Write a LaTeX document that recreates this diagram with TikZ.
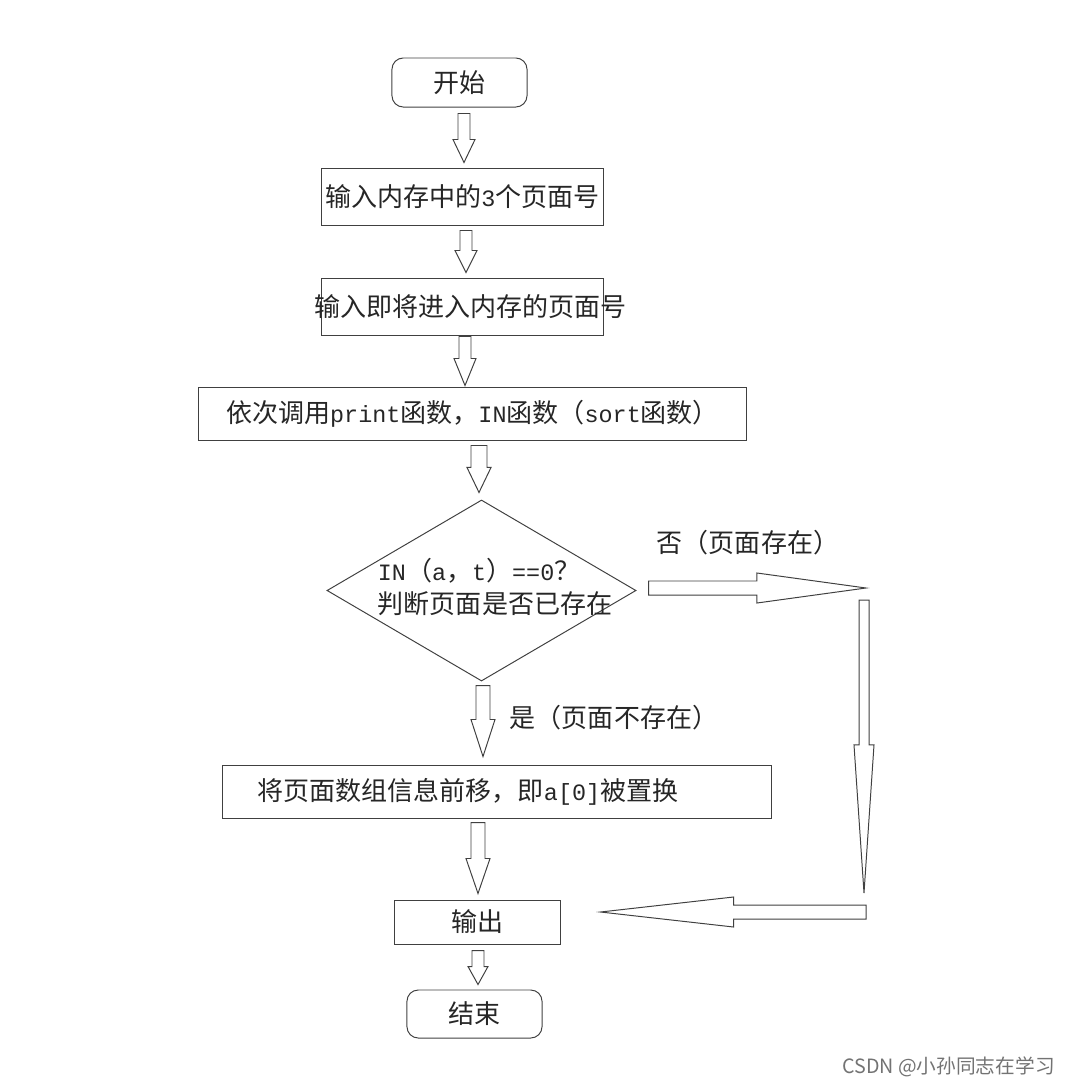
\documentclass[tikz,border=0pt]{standalone}
\usepackage{fontspec}
\setmainfont{Noto Sans CJK SC}
\newfontfamily\latinmono{Liberation Mono}[Scale=0.9]
\usetikzlibrary{positioning, shapes.geometric, calc}

\newcommand{\lm}[1]{{\latinmono #1}}
% hollow block arrow: from, to, shaft half width, head half width, head length
\newcommand{\hollowarrow}[5]{%
  \coordinate (ha-s) at #1;
  \coordinate (ha-t) at #2;
  \coordinate (ha-h) at ($(ha-t)!#5!(ha-s)$);
  \draw[barrow] ($(ha-s)!#3!90:(ha-t)$) -- ($(ha-h)!#3!90:(ha-t)$)
    -- ($(ha-h)!#4!90:(ha-t)$) -- (ha-t) -- ($(ha-h)!#4!-90:(ha-t)$)
    -- ($(ha-h)!#3!-90:(ha-t)$) -- ($(ha-s)!#3!-90:(ha-t)$) -- cycle;}

\tikzset{
  box/.style    = {draw=black!75, line width=0.7pt, rectangle, inner sep=0pt,
                   font=\fontsize{18.5pt}{23pt}\selectfont, text=black!85},
  term/.style   = {box, rounded corners=8pt},
  decide/.style = {box, diamond},
  lbl/.style    = {font=\fontsize{18.5pt}{23pt}\selectfont, text=black!85, inner sep=0pt},
  wmark/.style  = {font=\fontsize{14pt}{17pt}\selectfont, text=black!55, inner sep=0pt},
  barrow/.style = {draw=black!75, line width=0.7pt, fill=white, line join=miter},
}

\begin{document}
\begin{tikzpicture}[x=0.025cm, y=-0.025cm]
\useasboundingbox (0,0) rectangle (1068,1086);

% --- main column ---
\node[term, minimum width=3.375cm, minimum height=1.225cm] (start) at (459.5,82.5) {开始};
\node[box, minimum width=7.025cm, minimum height=1.425cm] (in3) at (462.5,196.5)
  {输入内存中的\lm{3}个页面号};
\node[box, minimum width=7.025cm, minimum height=1.425cm] (innew) at (462.5,306.5)
  {\makebox[0pt]{\hspace*{0.4cm}输入即将进入内存的页面号}};
\node[box, minimum width=13.675cm, minimum height=1.325cm] (call) at (472.5,413.5)
  {依次调用\lm{print}函数，\lm{IN}函数（\lm{sort}函数）};
\node[decide, minimum width=7.725cm, minimum height=4.525cm] (judge) at (481.5,590.5)
  {\makebox[0pt]{\hspace*{0.675cm}\begin{tabular}{@{}l@{}}
   \lm{IN}（\lm{a}，\lm{t}）\lm{==0}？\\ 判断页面是否已存在\end{tabular}}};
\node[box, minimum width=13.7cm, minimum height=1.325cm] (swap) at (497,791.5)
  {\makebox[0pt]{将页面数组信息前移，即\lm{a[0]}被置换\hspace*{1.45cm}}};
\node[box, minimum width=4.125cm, minimum height=1.1cm] (out) at (477.5,922) {输出};
\node[term, minimum width=3.375cm, minimum height=1.2cm] (end) at (474.5,1014) {结束};

% --- branch labels ---
\node[lbl] (no)  at (748,543) {否（页面存在）};
\node[lbl] (yes) at (614,718) {是（页面不存在）};

% --- corners of the return path ---
\coordinate (tr) at (866,588);
\coordinate (br) at (866,912);

% --- block arrows ---
\hollowarrow{($(start.south)+(4.5,6)$)}{($(in3.north)+(1.5,-5)$)}{0.15cm}{0.275cm}{0.575cm}
\hollowarrow{($(in3.south)+(3.5,5)$)}{($(innew.north)+(3.5,-5)$)}{0.15cm}{0.275cm}{0.55cm}
\hollowarrow{($(innew.south)+(2.5,1)$)}{($(call.north)+(-7.5,-1)$)}{0.15cm}{0.275cm}{0.675cm}
\hollowarrow{($(call.south)+(6.5,5)$)}{($(judge.north)+(-2.5,-7)$)}{0.2cm}{0.3cm}{0.625cm}
\hollowarrow{($(judge.south)+(1.5,4)$)}{($(swap.north)+(-14,-8)$)}{0.175cm}{0.3cm}{0.925cm}
\hollowarrow{($(swap.south)+(-19,4)$)}{($(out.north)+(0.5,-6)$)}{0.175cm}{0.3cm}{0.875cm}
\hollowarrow{($(out.south)+(0.5,6)$)}{($(end.north)+(3.5,-5)$)}{0.15cm}{0.25cm}{0.45cm}

% --- "no" branch back to output ---
\hollowarrow{($(judge.east)+(12,-2.5)$)}{(tr)}{0.175cm}{0.375cm}{2.725cm}
\hollowarrow{($(tr)+(-2,12)$)}{($(br)+(-2,-19)$)}{0.125cm}{0.25cm}{3.7cm}
\hollowarrow{(br)}{($(out.east)+(40,-10)$)}{0.175cm}{0.375cm}{3.325cm}

% --- watermark ---
\node[wmark, anchor=east] (csdn) at (1055,1067) {CSDN @小孙同志在学习};

\end{tikzpicture}
\end{document}
